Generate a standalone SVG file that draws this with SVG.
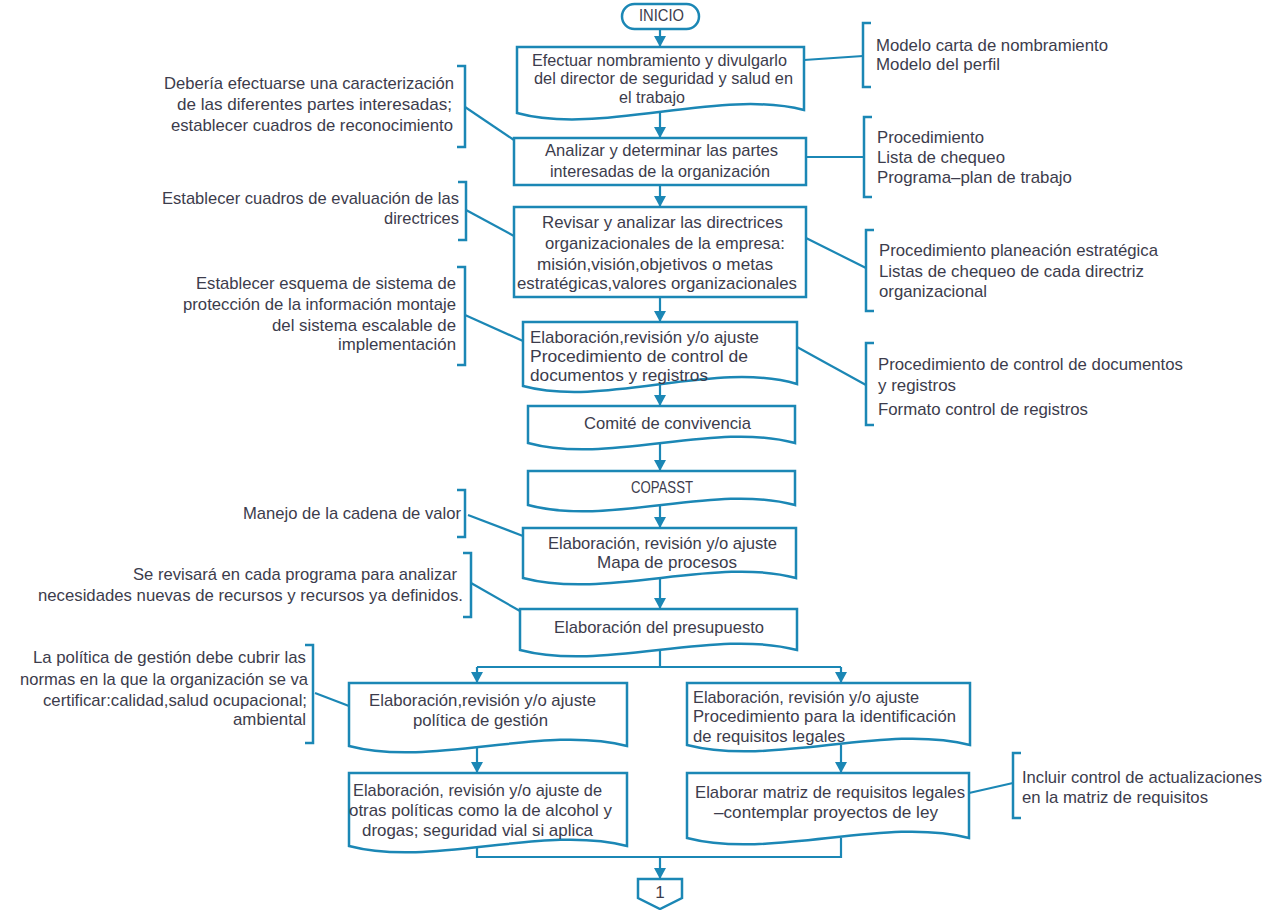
<svg xmlns="http://www.w3.org/2000/svg" width="1280" height="910" viewBox="0 0 1280 910">
<defs>
<style>
.t{font-family:"Liberation Sans",Arial,sans-serif;font-size:17px;fill:#3c3c4c}
.c{text-anchor:middle}
.n{fill:#fff;stroke:#1b87b5;stroke-width:2.5}
.l{fill:none;stroke:#1b87b5;stroke-width:2.2}
.b{fill:none;stroke:#1b87b5;stroke-width:2.5}
</style>
<marker id="ah" markerUnits="userSpaceOnUse" markerWidth="12" markerHeight="12" refX="10" refY="6" orient="auto">
<path d="M0,0 L11,6 L0,12 Z" fill="#1b87b5"/>
</marker>
</defs>
<rect width="1280" height="910" fill="#fff"/>
<g id="connectors">
<path class="l" d="M660,29 V46" marker-end="url(#ah)"/>
<path class="l" d="M660,108 V137" marker-end="url(#ah)"/>
<path class="l" d="M660,185 V206" marker-end="url(#ah)"/>
<path class="l" d="M660,297 V321" marker-end="url(#ah)"/>
<path class="l" d="M660,384 V405" marker-end="url(#ah)"/>
<path class="l" d="M660,442 V470" marker-end="url(#ah)"/>
<path class="l" d="M660,504 V527" marker-end="url(#ah)"/>
<path class="l" d="M660,578 V608" marker-end="url(#ah)"/>
<path class="l" d="M660,648 V667 M477,667 H841"/>
<path class="l" d="M477,667 V682" marker-end="url(#ah)"/>
<path class="l" d="M841,667 V682" marker-end="url(#ah)"/>
<path class="l" d="M477,745 V772" marker-end="url(#ah)"/>
<path class="l" d="M841,745 V772" marker-end="url(#ah)"/>
<path class="l" d="M477,840 V857 H841 V838"/>
<path class="l" d="M660,857 V878" marker-end="url(#ah)"/>
<path class="l" d="M804,60 L863,56"/>
<path class="l" d="M806,157 L864,157"/>
<path class="l" d="M806,238 L866,268"/>
<path class="l" d="M797,347 L866,385"/>
<path class="l" d="M969,793 L1013,783"/>
<path class="l" d="M465,107 L514,140"/>
<path class="l" d="M466,210 L514,236"/>
<path class="l" d="M465,315 L523,341"/>
<path class="l" d="M468,515 L523,536"/>
<path class="l" d="M471,583 L520,611"/>
<path class="l" d="M315,693 L349,706"/>
</g>
<g id="inicio">
<rect class="n" x="622" y="4" width="77" height="25" rx="12.5"/>
<text class="t" x="639" y="21" textLength="45" lengthAdjust="spacingAndGlyphs">INICIO</text>
</g>
<g id="n1">
<path class="n" d="M517,47 H804 V110 C720,88 600,136 517,113 Z"/>
<text class="t" x="532" y="66" textLength="255" lengthAdjust="spacingAndGlyphs">Efectuar nombramiento y divulgarlo</text>
<text class="t" x="534" y="84" textLength="259" lengthAdjust="spacingAndGlyphs">del director de seguridad y salud en</text>
<text class="t" x="619" y="103" textLength="66" lengthAdjust="spacingAndGlyphs">el trabajo</text>
</g>
<g id="n2">
<rect class="n" x="514" y="138" width="292" height="47"/>
<text class="t" x="545" y="156" textLength="233" lengthAdjust="spacingAndGlyphs">Analizar y determinar las partes</text>
<text class="t" x="550" y="177" textLength="220" lengthAdjust="spacingAndGlyphs">interesadas de la organización</text>
</g>
<g id="n3">
<rect class="n" x="514" y="207" width="292" height="90"/>
<text class="t" x="542" y="228" textLength="241" lengthAdjust="spacingAndGlyphs">Revisar y analizar las directrices</text>
<text class="t" x="545" y="249" textLength="240" lengthAdjust="spacingAndGlyphs">organizacionales de la empresa:</text>
<text class="t" x="537" y="270" textLength="236" lengthAdjust="spacingAndGlyphs">misión,visión,objetivos o metas</text>
<text class="t" x="517" y="289" textLength="280" lengthAdjust="spacingAndGlyphs">estratégicas,valores organizacionales</text>
</g>
<g id="n4">
<path class="n" d="M523,322 H797 V384 C716,360 604,408 523,386 Z"/>
<text class="t" x="530" y="343" textLength="229" lengthAdjust="spacingAndGlyphs">Elaboración,revisión y/o ajuste</text>
<text class="t" x="530" y="362" textLength="218" lengthAdjust="spacingAndGlyphs">Procedimiento de control de</text>
<text class="t" x="530" y="381" textLength="178" lengthAdjust="spacingAndGlyphs">documentos y registros</text>
</g>
<g id="n5">
<path class="n" d="M528,406 H795 V443 C715,421 608,465 528,443 Z"/>
<text class="t" x="584" y="429" textLength="167" lengthAdjust="spacingAndGlyphs">Comité de convivencia</text>
</g>
<g id="n6">
<path class="n" d="M528,471 H795 V505 C715,483 608,527 528,505 Z"/>
<text class="t" x="631" y="493" textLength="62" lengthAdjust="spacingAndGlyphs">COPASST</text>
</g>
<g id="n7">
<path class="n" d="M523,528 H796 V578 C716,556 606,600 523,578 Z"/>
<text class="t" x="548" y="549" textLength="229" lengthAdjust="spacingAndGlyphs">Elaboración, revisión y/o ajuste</text>
<text class="t" x="597" y="568" textLength="140" lengthAdjust="spacingAndGlyphs">Mapa de procesos</text>
</g>
<g id="n8">
<path class="n" d="M520,609 H797 V650 C714,628 603,672 520,650 Z"/>
<text class="t" x="554" y="633" textLength="210" lengthAdjust="spacingAndGlyphs">Elaboración del presupuesto</text>
</g>
<g id="n9l">
<path class="n" d="M349,683 H627 V746 C544,724 432,768 349,746 Z"/>
<text class="t" x="369" y="706" textLength="227" lengthAdjust="spacingAndGlyphs">Elaboración,revisión y/o ajuste</text>
<text class="t" x="413" y="726" textLength="135" lengthAdjust="spacingAndGlyphs">política de gestión</text>
</g>
<g id="n9r">
<path class="n" d="M687,683 H970 V745 C885,723 772,767 687,745 Z"/>
<text class="t" x="693" y="703" textLength="226" lengthAdjust="spacingAndGlyphs">Elaboración, revisión y/o ajuste</text>
<text class="t" x="693" y="722" textLength="263" lengthAdjust="spacingAndGlyphs">Procedimiento para la identificación</text>
<text class="t" x="693" y="742" textLength="152" lengthAdjust="spacingAndGlyphs">de requisitos legales</text>
</g>
<g id="n10l">
<path class="n" d="M349,773 H627 V846 C544,824 432,868 349,846 Z"/>
<text class="t" x="353" y="796" textLength="249" lengthAdjust="spacingAndGlyphs">Elaboración, revisión y/o ajuste de</text>
<text class="t" x="349" y="816" textLength="263" lengthAdjust="spacingAndGlyphs">otras políticas como la de alcohol y</text>
<text class="t" x="362" y="836" textLength="231" lengthAdjust="spacingAndGlyphs">drogas; seguridad vial si aplica</text>
</g>
<g id="n10r">
<path class="n" d="M687,773 H969 V838 C885,816 771,860 687,838 Z"/>
<text class="t" x="695" y="798" textLength="270" lengthAdjust="spacingAndGlyphs">Elaborar matriz de requisitos legales</text>
<text class="t" x="714" y="818" textLength="224" lengthAdjust="spacingAndGlyphs">–contemplar proyectos de ley</text>
</g>
<g id="end1">
<path class="n" d="M638,879 H682 V898 L660,909 L638,898 Z"/>
<text class="t c" x="660" y="898">1</text>
</g>
<g id="r1">
<path class="b" d="M871,23 H863 V87 H871"/>
<text class="t" x="876" y="51" textLength="232" lengthAdjust="spacingAndGlyphs">Modelo carta de nombramiento</text>
<text class="t" x="876" y="70" textLength="124" lengthAdjust="spacingAndGlyphs">Modelo del perfil</text>
</g>
<g id="r2">
<path class="b" d="M872,117 H864 V197 H872"/>
<text class="t" x="877" y="143" textLength="107" lengthAdjust="spacingAndGlyphs">Procedimiento</text>
<text class="t" x="877" y="163" textLength="128" lengthAdjust="spacingAndGlyphs">Lista de chequeo</text>
<text class="t" x="877" y="183" textLength="195" lengthAdjust="spacingAndGlyphs">Programa–plan de trabajo</text>
</g>
<g id="r3">
<path class="b" d="M874,230 H866 V311 H874"/>
<text class="t" x="879" y="256" textLength="279" lengthAdjust="spacingAndGlyphs">Procedimiento planeación estratégica</text>
<text class="t" x="879" y="277" textLength="265" lengthAdjust="spacingAndGlyphs">Listas de chequeo de cada directriz</text>
<text class="t" x="879" y="297" textLength="108" lengthAdjust="spacingAndGlyphs">organizacional</text>
</g>
<g id="r4">
<path class="b" d="M874,343 H866 V425 H874"/>
<text class="t" x="878" y="370" textLength="305" lengthAdjust="spacingAndGlyphs">Procedimiento de control de documentos</text>
<text class="t" x="878" y="391" textLength="78" lengthAdjust="spacingAndGlyphs">y registros</text>
<text class="t" x="878" y="415" textLength="210" lengthAdjust="spacingAndGlyphs">Formato control de registros</text>
</g>
<g id="r5">
<path class="b" d="M1021,753 H1013 V818 H1021"/>
<text class="t" x="1022" y="783" textLength="240" lengthAdjust="spacingAndGlyphs">Incluir control de actualizaciones</text>
<text class="t" x="1022" y="803" textLength="186" lengthAdjust="spacingAndGlyphs">en la matriz de requisitos</text>
</g>
<g id="l1">
<path class="b" d="M457,66 H465 V147 H457"/>
<text class="t" x="164" y="89" textLength="290" lengthAdjust="spacingAndGlyphs">Debería efectuarse una caracterización</text>
<text class="t" x="177" y="110" textLength="275" lengthAdjust="spacingAndGlyphs">de las diferentes partes interesadas;</text>
<text class="t" x="171" y="131" textLength="282" lengthAdjust="spacingAndGlyphs">establecer cuadros de reconocimiento</text>
</g>
<g id="l2">
<path class="b" d="M458,182 H466 V240 H458"/>
<text class="t" x="162" y="204" textLength="297" lengthAdjust="spacingAndGlyphs">Establecer cuadros de evaluación de las</text>
<text class="t" x="384" y="224" textLength="75" lengthAdjust="spacingAndGlyphs">directrices</text>
</g>
<g id="l3">
<path class="b" d="M457,267 H465 V365 H457"/>
<text class="t" x="196" y="289" textLength="260" lengthAdjust="spacingAndGlyphs">Establecer esquema de sistema de</text>
<text class="t" x="183" y="310" textLength="273" lengthAdjust="spacingAndGlyphs">protección de la información montaje</text>
<text class="t" x="272" y="331" textLength="184" lengthAdjust="spacingAndGlyphs">del sistema escalable de</text>
<text class="t" x="338" y="350" textLength="118" lengthAdjust="spacingAndGlyphs">implementación</text>
</g>
<g id="l4">
<path class="b" d="M457,490 H465 V537 H457"/>
<text class="t" x="243" y="519" textLength="218" lengthAdjust="spacingAndGlyphs">Manejo de la cadena de valor</text>
</g>
<g id="l5">
<path class="b" d="M463,553 H471 V617 H463"/>
<text class="t" x="133" y="580" textLength="324" lengthAdjust="spacingAndGlyphs">Se revisará en cada programa para analizar</text>
<text class="t" x="38" y="601" textLength="425" lengthAdjust="spacingAndGlyphs">necesidades nuevas de recursos y recursos ya definidos.</text>
</g>
<g id="l6">
<path class="b" d="M305,645 H313 V743 H305"/>
<text class="t" x="33" y="663" textLength="273" lengthAdjust="spacingAndGlyphs">La política de gestión debe cubrir las</text>
<text class="t" x="20" y="685" textLength="288" lengthAdjust="spacingAndGlyphs">normas en la que la organización se va</text>
<text class="t" x="43" y="706" textLength="264" lengthAdjust="spacingAndGlyphs">certificar:calidad,salud ocupacional;</text>
<text class="t" x="233" y="725" textLength="73" lengthAdjust="spacingAndGlyphs">ambiental</text>
</g>
</svg>
